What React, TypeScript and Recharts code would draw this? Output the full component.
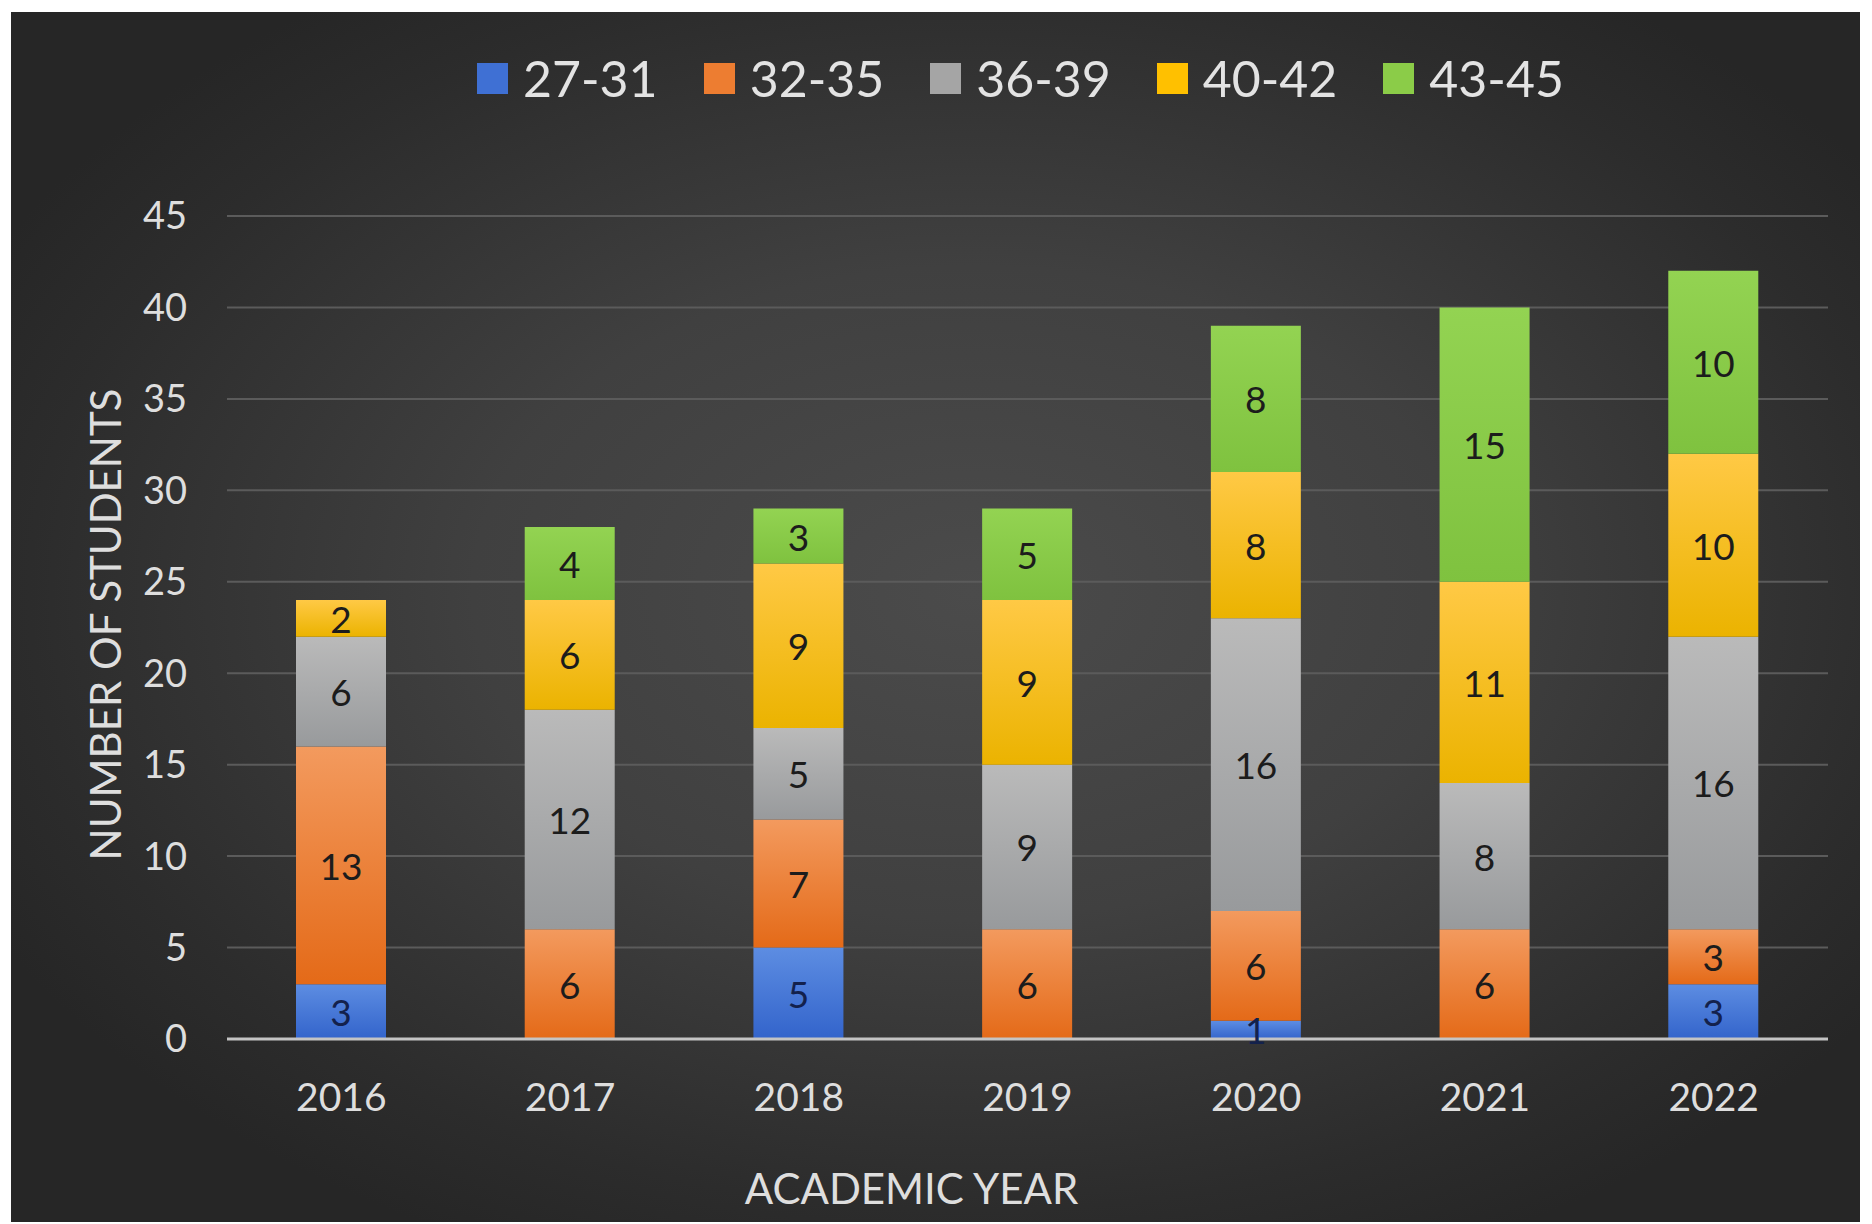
import React from "react";
import { BarChart, Bar, XAxis, YAxis, CartesianGrid, LabelList } from "recharts";

const years = ["2016", "2017", "2018", "2019", "2020", "2021", "2022"];
const age2731 = [3, 0, 5, 0, 1, 0, 3];
const age3235 = [13, 6, 7, 6, 6, 6, 3];
const age3639 = [6, 12, 5, 9, 16, 8, 16];
const age4042 = [2, 6, 9, 9, 8, 11, 10];
const age4345 = [0, 4, 3, 5, 8, 15, 10];
const yTicks = [0, 5, 10, 15, 20, 25, 30, 35, 40, 45];

const FONT = "Lato, 'Open Sans', sans-serif";

const series = [
  { key: "g1", name: "27-31", values: age2731, top: "#5d8de2", bottom: "#3364cb", swatch: "#3f70d4", text: "#13214c" },
  { key: "g2", name: "32-35", values: age3235, top: "#f39a5e", bottom: "#e46a18", swatch: "#ed7d31", text: "#1c1c1c" },
  { key: "g3", name: "36-39", values: age3639, top: "#bababa", bottom: "#989a9c", swatch: "#a5a5a5", text: "#1c1c1c" },
  { key: "g4", name: "40-42", values: age4042, top: "#ffc945", bottom: "#ebb300", swatch: "#ffc000", text: "#1c1c1c" },
  { key: "g5", name: "43-45", values: age4345, top: "#93d352", bottom: "#7fc23f", swatch: "#8bcc48", text: "#1c1c1c" },
];

const data = years.map((year, i) => {
  const row: Record<string, string | number> = { year };
  series.forEach((s) => {
    row[s.key] = s.values[i];
  });
  return row;
});

// no label on empty segments
const segmentLabel = (color: string) => (props: any) => {
  const { x, y, width, height, value } = props;
  if (!value) return null;
  return (
    <text
      x={x + width / 2}
      y={y + height / 2}
      fill={color}
      fontSize={37}
      fontFamily={FONT}
      textAnchor="middle"
      dominantBaseline="central"
    >
      {value}
    </text>
  );
};

export default function App() {
  return (
    <div
      style={{
        position: "absolute",
        left: 11,
        top: 12,
        width: 1849,
        height: 1210,
        background:
          "radial-gradient(ellipse 60% 60% at 52% 48%, #4b4b4b 0%, #404040 45%, #2c2c2c 85%, #262626 100%)",
        fontFamily: FONT,
      }}
    >
      <div
        style={{
          position: "absolute",
          top: 38,
          left: 0,
          right: 0,
          display: "flex",
          justifyContent: "center",
          paddingLeft: 170,
          boxSizing: "border-box",
        }}
      >
        {series.map((s, i) => (
          <div
            key={s.key}
            style={{
              display: "flex",
              alignItems: "center",
              marginLeft: i === 0 ? 0 : 46,
              color: "#e3e3e3",
              fontSize: 50,
              lineHeight: "56px",
            }}
          >
            <span
              style={{
                display: "inline-block",
                width: 31,
                height: 31,
                background: s.swatch,
                marginRight: 15,
              }}
            />
            {s.name}
          </div>
        ))}
      </div>

      <BarChart
        width={1849}
        height={1210}
        data={data}
        margin={{ top: 204, right: 32, bottom: 0, left: 0 }}
        barSize={90}
        style={{ position: "absolute", left: 0, top: 0 }}
      >
        <defs>
          {series.map((s) => (
            <linearGradient key={s.key} id={`grad-${s.key}`} x1="0" y1="0" x2="0" y2="1">
              <stop offset="0%" stopColor={s.top} />
              <stop offset="100%" stopColor={s.bottom} />
            </linearGradient>
          ))}
        </defs>
        <CartesianGrid vertical={false} stroke="#5b5b5b" strokeWidth={2} />
        <XAxis
          dataKey="year"
          height={183}
          tickLine={false}
          axisLine={{ stroke: "#c4c4c4", strokeWidth: 3 }}
          tickMargin={38}
          tick={{ fill: "#dedede", fontSize: 39, fontFamily: FONT }}
          label={{
            content: ({ viewBox }: any) => (
              <text
                x={viewBox.x + viewBox.width / 2 - 116}
                y={viewBox.y + 149}
                fill="#dedede"
                fontSize={42}
                fontFamily={FONT}
                textAnchor="middle"
                dominantBaseline="central"
              >
                ACADEMIC YEAR
              </text>
            ),
          }}
        />
        <YAxis
          width={216}
          domain={[0, 45]}
          ticks={yTicks}
          interval={0}
          tickLine={false}
          axisLine={false}
          tickMargin={34}
          tick={{ fill: "#dedede", fontSize: 38, fontFamily: FONT }}
          label={{
            content: ({ viewBox }: any) => {
              const cx = viewBox.x + 94;
              const cy = viewBox.y + viewBox.height / 2 - 3;
              return (
                <text
                  x={cx}
                  y={cy}
                  transform={`rotate(-90 ${cx} ${cy})`}
                  fill="#dedede"
                  fontSize={42}
                  fontFamily={FONT}
                  textAnchor="middle"
                  dominantBaseline="central"
                >
                  NUMBER OF STUDENTS
                </text>
              );
            },
          }}
        />
        {series.map((s) => (
          <Bar
            key={s.key}
            dataKey={s.key}
            name={s.name}
            stackId="students"
            fill={`url(#grad-${s.key})`}
            isAnimationActive={false}
          >
            <LabelList dataKey={s.key} content={segmentLabel(s.text)} />
          </Bar>
        ))}
      </BarChart>
    </div>
  );
}
